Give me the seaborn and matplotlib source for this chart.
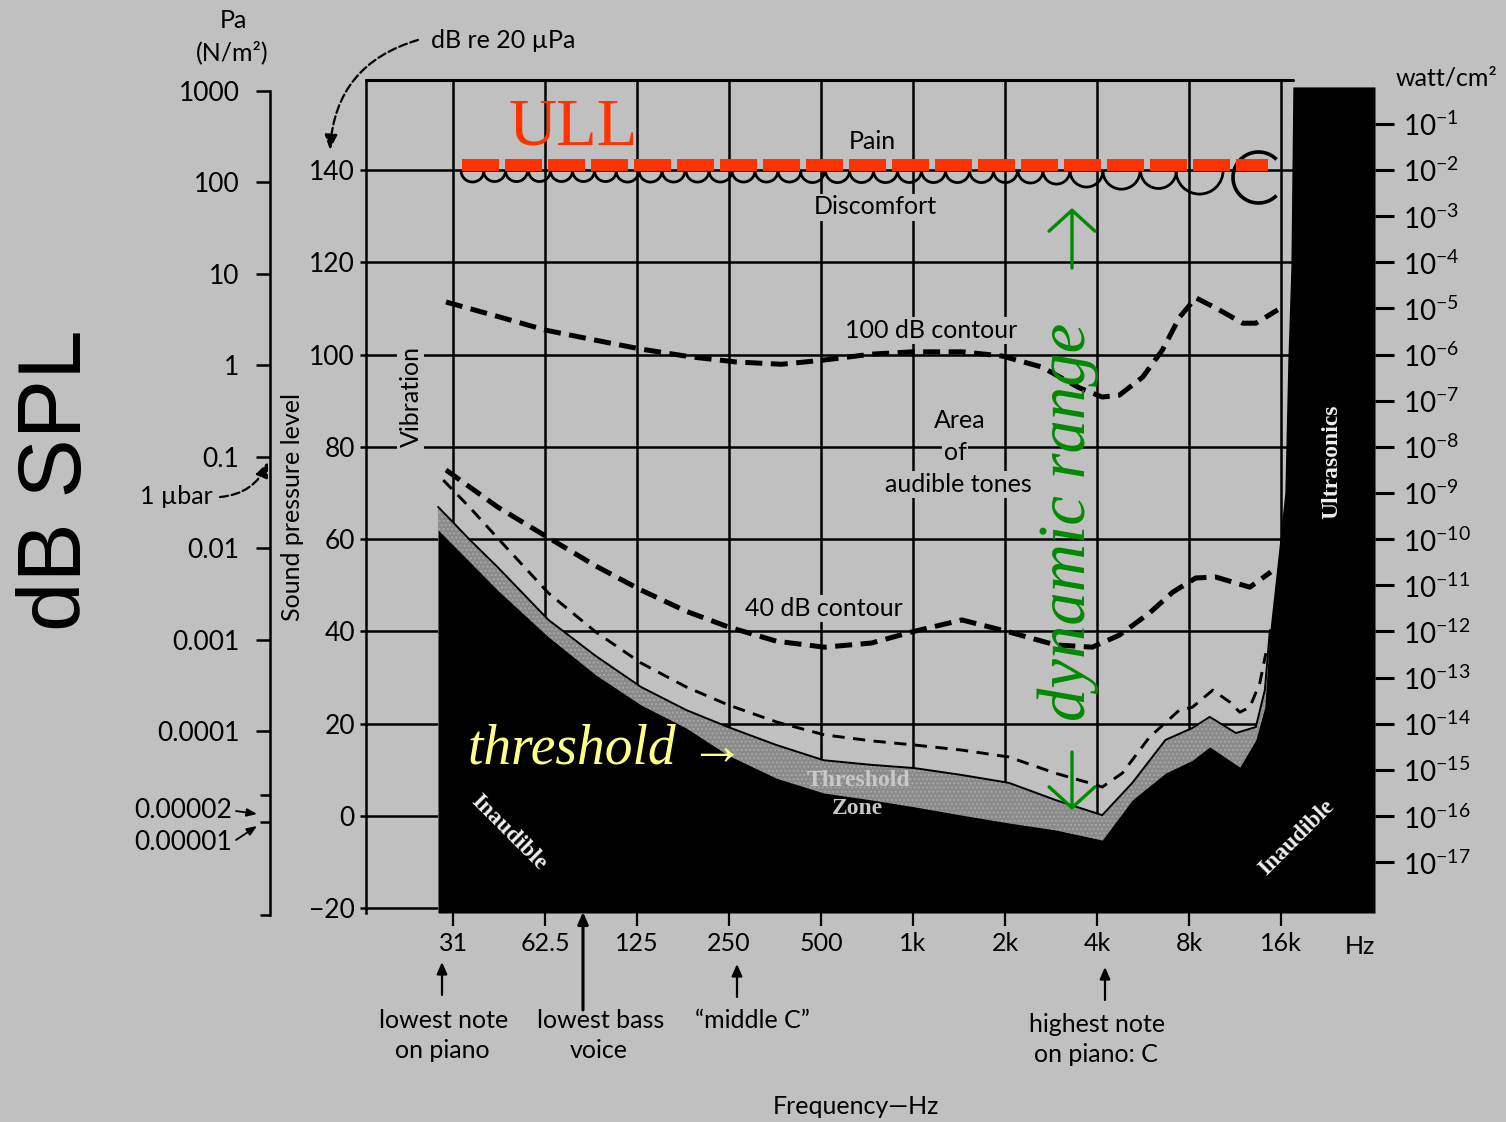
import numpy as np
import matplotlib
matplotlib.use("Agg")
import matplotlib.pyplot as plt
from matplotlib.path import Path
from matplotlib.ticker import FixedLocator, NullFormatter, NullLocator
import seaborn as sns

# ---------------- data ----------------
octave_ticks_hz = [31.25, 62.5, 125, 250, 500, 1000, 2000, 4000, 8000, 16000]
octave_labels = ["31", "62.5", "125", "250", "500", "1k", "2k", "4k", "8k", "16k"]
spl_ticks_db = [-20, 0, 20, 40, 60, 80, 100, 120, 140]
pa_ticks = [1000, 100, 10, 1, 0.1, 0.01, 0.001, 0.0001]
pa_labels = ["1000", "100", "10", "1", "0.1", "0.01", "0.001", "0.0001"]
pa_small_ticks = [2e-5, 1e-5]
intensity_exponents = list(range(-1, -18, -1))

contour100_hz = [29.6, 44.6, 62.7, 95, 128.5, 187.6, 264, 371, 509, 731, 997, 1446, 1954,
                 2640, 3500, 4160, 4730, 5640, 6550, 7450, 8420, 9790, 12000, 13240, 15620]
contour100_db = [111.4, 108.1, 105.3, 102.9, 101.2, 99.5, 98.4, 97.9, 98.8, 100.1, 100.6, 100.6, 99.7,
                 97.3, 92.8, 90.8, 91.2, 95.1, 101.0, 108.1, 112.3, 110.1, 106.8, 106.8, 109.7]

contour40_hz = [29.6, 43.6, 64.1, 91.5, 128.5, 180.7, 248, 357, 513, 731, 990, 1445, 2060,
                2920, 3860, 4730, 5940, 7070, 8420, 9790, 12650, 14830]
contour40_db = [75.0, 67.0, 60.3, 54.2, 49.0, 44.4, 41.0, 37.9, 36.6, 37.5, 39.9, 42.5, 39.9,
                37.1, 36.6, 39.2, 44.0, 48.5, 51.6, 51.8, 49.6, 52.9]

thin_hz = [29.0, 35.5, 43.6, 64.1, 91.5, 128.5, 180.7, 248, 357, 513, 731, 1010, 1445, 2060,
           2920, 3770, 4160, 4840, 5940, 7450, 8210, 9570, 10880, 11730, 12650, 13640, 14280]
thin_db = [72.8, 66.8, 60.3, 48.3, 39.9, 33.2, 28.0, 24.1, 20.4, 17.6, 16.3, 15.4, 14.3, 12.8,
           9.3, 7.2, 6.3, 9.3, 17.1, 23.0, 23.6, 27.3, 24.7, 22.5, 23.6, 28.8, 35.3]

zone_top_hz = [27.9, 35.5, 43.6, 64.1, 91.5, 128.5, 180.7, 248, 357, 510, 731, 1010, 1445,
               2060, 2920, 4160, 5220, 6700, 8210, 9350, 11390, 13240, 14170, 14720]
zone_top_db = [67.0, 59.8, 54.0, 42.5, 34.7, 28.0, 23.0, 19.3, 15.4, 12.1, 11.1, 10.4, 8.9,
               7.2, 3.5, 0.2, 7.2, 16.5, 19.1, 21.5, 18.0, 19.3, 27.3, 40.3]

inaudible_top_hz = [27.9, 35.5, 43.6, 64.1, 91.5, 128.5, 180.7, 248, 357, 510, 731, 1010, 1445,
                    2060, 2920, 4160, 5220, 6700, 8210, 9350, 11730, 13240, 14170, 14720, 15860,
                    16470, 16850, 17240, 17500, 32500]
inaudible_top_db = [62.0, 55.0, 49.0, 38.8, 30.6, 24.1, 19.1, 13.2, 8.2, 5.0, 3.5, 2.0, 0.2,
                    -1.5, -3.0, -5.2, 3.5, 9.3, 12.1, 15.0, 10.6, 16.5, 23.6, 40.3, 59.8,
                    70.0, 98.8, 119.0, 158.0, 158.0]

pain_cusps_hz = [32.96, 39.2, 46.3, 54.7, 64.6, 76.3, 90.1, 106.4, 126.6, 150.7, 179.3, 213.4,
                 253.9, 302.1, 359.5, 427.7, 512.9, 615.2, 737.6, 884.6, 1060, 1271, 1524,
                 1827, 2191, 2645, 3245, 4163, 5515, 7233, 10320]
pain_db = 140.0
pain_loop_hz = 13440
pain_loop_db = 138.5

ull_hz = [33.5, 14500]
ull_db = [141.0, 141.0]

# ---------------- style / layout ----------------
sns.set_style("white")
BG = "#c0c0c0"
plt.rcParams["font.family"] = ["Lato", "DejaVu Sans"]
plt.rcParams["mathtext.fontset"] = "custom"
plt.rcParams["mathtext.rm"] = "Lato"
plt.rcParams["axes.unicode_minus"] = True
for k in ["text.color", "axes.labelcolor", "xtick.color", "ytick.color", "axes.edgecolor"]:
    plt.rcParams[k] = "black"
SERIF = ["Liberation Serif", "DejaVu Serif"]

W, H = 1506, 1122
DPI = 100
fig = plt.figure(figsize=(W / DPI, H / DPI), dpi=DPI)
fig.patch.set_facecolor(BG)


def fx(px):
    return px / W


def fy(py):
    return 1 - py / H


def P(px, py):
    return (fx(px), fy(py))


XMIN, XMAX = 16.2, 32500
YMIN, YMAX = -21.0, 159.5
AX_L, AX_R, AX_T, AX_B = 366, 1375, 80, 913

ax = fig.add_axes([fx(AX_L), fy(AX_B), fx(AX_R) - fx(AX_L), fy(AX_T) - fy(AX_B)])
ax.set_facecolor(BG)
ax.set_xscale("log", base=2)
ax.set_xlim(XMIN, XMAX)
ax.set_ylim(YMIN, YMAX)
ax.set_xticks(octave_ticks_hz)
ax.set_xticklabels(octave_labels)
ax.xaxis.set_minor_locator(NullLocator())
ax.set_yticks(spl_ticks_db)
ax.grid(True, color="black", lw=1.8)
ax.set_axisbelow(True)
for side in ["top", "right", "bottom"]:
    ax.spines[side].set_visible(False)
ax.spines["left"].set_linewidth(1.8)
ax.spines["left"].set_color("black")
ax.tick_params(axis="x", direction="out", length=9, width=1.6, pad=5, labelsize=18,
               colors="black", bottom=True)
ax.tick_params(axis="y", direction="out", length=4, width=1.8, pad=4, labelsize=19,
               colors="black", left=True)
ax.set_xlabel("")
ax.set_ylabel("")

# top border of the chart grid (up to the ultrasonic block)
ax.axhline(YMAX, xmin=0, xmax=np.log(17500 / XMIN) / np.log(XMAX / XMIN), color="black",
           lw=2.2, clip_on=False)

# threshold zone + inaudible region
ax.fill_between(zone_top_hz, zone_top_db, YMIN, facecolor="#8a8a8a", edgecolor="#a6a6a6",
                hatch="....", lw=0, zorder=2)
ax.plot(zone_top_hz, zone_top_db, color="black", lw=1.4, zorder=2.5)
ax.fill_between(inaudible_top_hz, inaudible_top_db, YMIN, color="black", lw=0, zorder=3)

# contours
sns.lineplot(x=contour100_hz, y=contour100_db, ax=ax, color="black", lw=3.6,
             linestyle=(0, (3.4, 1.7)), estimator=None, sort=False, zorder=4)
sns.lineplot(x=contour40_hz, y=contour40_db, ax=ax, color="black", lw=3.6,
             linestyle=(0, (3.4, 1.7)), estimator=None, sort=False, zorder=4)
sns.lineplot(x=thin_hz, y=thin_db, ax=ax, color="black", lw=2.1,
             linestyle=(0, (4.2, 2.9)), estimator=None, sort=False, zorder=4)

# pain scallops
ax_w_px = (AX_R - AX_L)
lspan = np.log(XMAX) - np.log(XMIN)
arc = Path.arc(180, 360)
for f1, f2 in zip(pain_cusps_hz[:-1], pain_cusps_hz[1:]):
    width_px = ax_w_px * (np.log(f2) - np.log(f1)) / lspan
    ax.plot([np.sqrt(f1 * f2)], [pain_db], marker=arc, ms=width_px * 72 / DPI,
            mfc="none", mec="black", mew=2.0, ls="none", zorder=5)
ax.plot([pain_loop_hz], [pain_loop_db], marker=Path.arc(45, 315), ms=52 * 72 / DPI,
        mfc="none", mec="black", mew=2.6, ls="none", zorder=5)

# ULL
sns.lineplot(x=ull_hz, y=ull_db, ax=ax, color="#ff3300", lw=8.6,
             linestyle=(0, (3.1, 0.5)), estimator=None, sort=False, zorder=6)
for ln in ax.lines[-1:]:
    ln.set_dash_capstyle("butt")

# right intensity axis
ax2 = ax.twinx()
ax2.set_ylim((YMIN - 160) / 10, (YMAX - 160) / 10)
ax2.set_yticks(intensity_exponents)
ax2.set_yticklabels([f"$10^{{{e}}}$" for e in intensity_exponents])
for s in ax2.spines.values():
    s.set_visible(False)
ax2.tick_params(axis="y", direction="out", length=14, width=2.2, pad=6, labelsize=20,
                colors="black", right=True)

# left Pa axis
pa_top_px, pa_bot_px = 91, 915
dec_px = (731 - 91) / 7
ax_pa = fig.add_axes([fx(270), fy(pa_bot_px), 0.0004, fy(pa_top_px) - fy(pa_bot_px)])
ax_pa.set_facecolor("none")
ax_pa.set_yscale("log")
pa_low = 10 ** (3 - (pa_bot_px - pa_top_px) / dec_px)
ax_pa.set_ylim(pa_low, 1000)
ax_pa.set_xticks([])
for side in ["top", "right", "bottom"]:
    ax_pa.spines[side].set_visible(False)
ax_pa.spines["left"].set_linewidth(1.8)
ax_pa.spines["left"].set_color("black")
ax_pa.yaxis.set_major_locator(FixedLocator(pa_ticks))
ax_pa.set_yticklabels(pa_labels)
ax_pa.yaxis.set_minor_locator(FixedLocator(pa_small_ticks + [pa_low * 1.0001]))
ax_pa.yaxis.set_minor_formatter(NullFormatter())
ax_pa.tick_params(axis="y", which="major", direction="out", length=10, width=1.8, pad=12,
                  labelsize=19, left=True, colors="black")
ax_pa.tick_params(axis="y", which="minor", direction="out", length=7, width=1.8, left=True,
                  colors="black")

# ---------------- texts ----------------
def ftext(px, py, s, size=18, **kw):
    kw.setdefault("ha", "center")
    kw.setdefault("va", "center")
    kw.setdefault("color", "black")
    return fig.text(fx(px), fy(py), s, fontsize=size, **kw)


box = dict(boxstyle="square,pad=0.08", fc=BG, ec="none")

ftext(58, 480, "dB SPL", size=64, rotation=90, family=["Liberation Sans", "DejaVu Sans"])
ftext(233, 21, "Pa")
ftext(232, 52, "(N/m²)")
ftext(503, 40, "dB re 20 µPa")
ftext(1446, 78, "watt/cm²")
ftext(292, 507, "Sound pressure level", rotation=90)
ftext(213, 497, "1 µbar", ha="right")
ftext(232, 810, "0.00002", size=19, ha="right")
ftext(232, 842, "0.00001", size=19, ha="right")

ftext(411, 396, "Vibration", rotation=90, bbox=box)
ftext(872, 141, "Pain")
ftext(875, 207, "Discomfort", bbox=box)
ftext(931, 331, "100 dB contour", bbox=box)
ftext(960, 421, "Area", bbox=box)
ftext(955, 452, "of", bbox=box)
ftext(958, 484, "audible tones", bbox=box)
ftext(824, 608, "40 dB contour", bbox=box)

ftext(573, 128, "ULL", size=48, color="#ff3300", family=SERIF)
ftext(607, 750, "threshold →", size=40, color="#ffff88", family=SERIF, style="italic")
ftext(1068, 522, "dynamic range", size=48, color="#008a00", family=SERIF, style="italic",
      rotation=90)

ftext(858, 781, "Threshold", size=17, color="#c8c8c8", family=SERIF, weight="bold")
ftext(857, 808, "Zone", size=17, color="#c8c8c8", family=SERIF, weight="bold")
ftext(509, 833, "Inaudible", size=17, color="#eeeeee", family=SERIF, weight="bold", rotation=-45)
ftext(1297, 838, "Inaudible", size=17, color="#eeeeee", family=SERIF, weight="bold", rotation=45)
ftext(1332, 462, "Ultrasonics", size=17, color="#eeeeee", family=SERIF, weight="bold", rotation=90)

ftext(1360, 947, "Hz")
ftext(444, 1020, "lowest note")
ftext(442, 1050, "on piano")
ftext(601, 1020, "lowest bass")
ftext(599, 1050, "voice")
ftext(752, 1021, "“middle C”")
ftext(1097, 1024, "highest note")
ftext(1096, 1054, "on piano: C")
ftext(856, 1106, "Frequency—Hz")

# ---------------- arrows ----------------
def farrow(p_from, p_to, **props):
    ax.annotate("", xy=P(*p_to), xytext=P(*p_from), xycoords="figure fraction",
                textcoords="figure fraction", arrowprops=props, annotation_clip=False)


blk = dict(arrowstyle="-|>,head_length=0.5,head_width=0.22", color="black", lw=1.6,
           mutation_scale=14, shrinkA=0, shrinkB=0)
farrow((442, 995), (442, 962), **blk)
farrow((737, 997), (737, 964), **blk)
farrow((1105, 1000), (1105, 967), **blk)
farrow((583, 1010), (583, 912), **dict(blk, lw=2.2))

dash = dict(arrowstyle="-|>,head_length=0.6,head_width=0.25", color="black", lw=1.6,
            ls="--", mutation_scale=15, shrinkA=0, shrinkB=0)
farrow((418, 40), (330, 150), connectionstyle="arc3,rad=0.35", **dash)
farrow((220, 497), (268, 462), connectionstyle="arc3,rad=0.3", **dash)
sm = dict(arrowstyle="-|>,head_length=0.5,head_width=0.2", color="black", lw=1.3,
          mutation_scale=12, shrinkA=0, shrinkB=0)
farrow((236, 811), (257, 814), **sm)
farrow((236, 840), (257, 826), **sm)

grn = dict(arrowstyle="->,head_length=0.5,head_width=0.55", color="#008a00", lw=2.4,
           mutation_scale=30, shrinkA=0, shrinkB=0)
farrow((1072, 268), (1072, 208), **grn)
farrow((1072, 752), (1072, 810), **grn)

fig.savefig("out.png", dpi=DPI, facecolor=BG)
